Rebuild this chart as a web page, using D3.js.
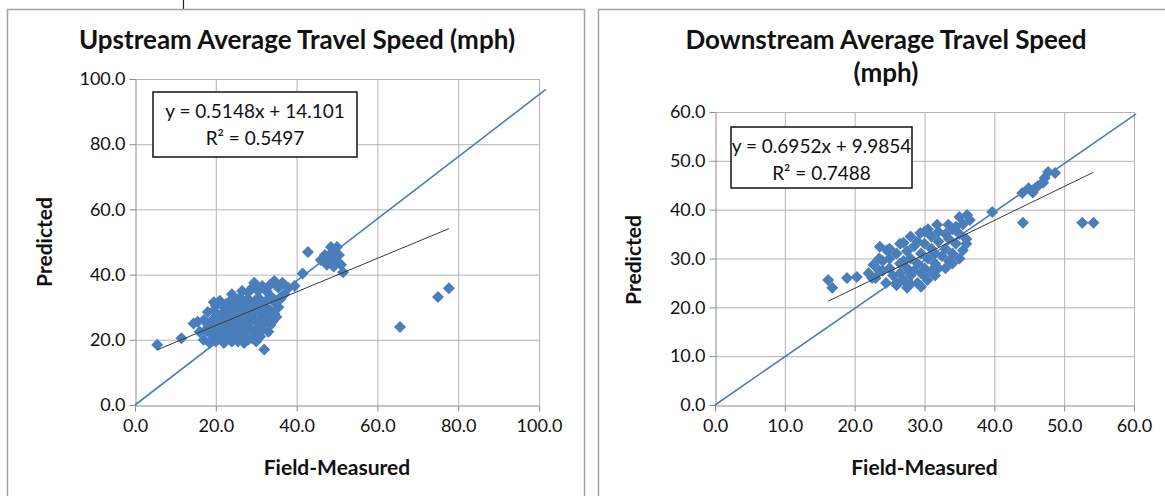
<!DOCTYPE html>
<html>
<head>
<meta charset="UTF-8">
<script src="https://d3js.org/d3.v7.min.js"></script>
<style>
  body { margin: 0; background: #fff; }
  svg { display: block; }
  text { font-family: Lato, "Open Sans", sans-serif; fill: #111; }
</style>
</head>
<body>
<div class="myDiv"></div>
<script>
// upstream speeds (mph): [field-measured, predicted]
var upPoints = [
  [5.5,18.5],[11.5,20.5],[14.5,25],
  [17,20],[18.5,19],[19.5,21],[20,19.5],[21,20.5],[22,19],[22.5,21],[23.5,20],[24,19.5],[25,21],[25.5,19.5],[26.5,20.5],[27,19],[28,20],[29,20.5],[30,19.5],[31,21],[32,17],
  [16,22.5],[17.5,23],[18.5,22],[19,24],[20,23],[21,22],[21.5,24],[22.5,23],[23,22],[24,24],[24.5,22.5],[25.5,23.5],[26,22],[27,24],[27.5,22.5],[28.5,23.5],[29.5,22],[30.5,24],[31.5,23],[33,22.5],[33.5,24.5],
  [15.5,25.5],[17,26],[18,25],[19.5,26.5],[20.5,25],[21,27],[22,26],[23,25],[23.5,27],[24.5,26],[25,25],[26,27],[26.5,25.5],[27.5,26.5],[28,25],[29,27],[30,25.5],[31,26.5],[32,25],[33,27],[34,25.5],[35,27],
  [18,28.5],[19.5,29],[20,30.5],[21.5,28],[22,30],[23,29],[24,28],[24.5,30],[25.5,29],[26.5,28.5],[27,30.5],[28,29],[29,28],[29.5,30],[30.5,29],[31.5,28.5],[32.5,30],[33.5,29],[34.5,28],[35.5,30],
  [19.5,31.5],[21,32],[22.5,31],[24,32.5],[25,31.5],[26,33],[27,31.5],[28,32.5],[29.5,31],[30.5,33],[31,31.5],[32.5,32],[33.5,33.5],[34.5,31.5],[36,32.5],[37,34],
  [24,34],[26.5,35],[28,34.5],[29,36],[29.5,37.5],[30.5,35],[31.5,36.5],[32.5,35],[33.5,37],[34.5,38],[35.5,36],[36.5,37.5],[38,36],[39.5,36.5],
  [41.5,40.3],[42.8,46.9],[46,44.5],[47,46],[47.5,43],[48.3,45.3],[48.5,48.5],[49,47],[49.5,44],[50,48.5],[50.5,46],[51,43],[51.5,40.7],[49.2,42.5],
  [65.6,23.9],[75,33.1],[77.7,35.8]
];

// downstream speeds (mph): [field-measured, predicted]
var downPoints = [
  [16.2,25.6],[16.8,24],[18.9,26],[20.3,26.2],[22.7,28.7],[22,27],[23.6,32.4],[24.6,31.7],[27,33.2],
  [23,26],[24,27.5],[24.5,25],[25,28],[25.5,26.5],[26,24.5],[26.5,29],[26.5,27],[27,25.5],[27.5,28],[27.5,24],
  [28,26.5],[28,30],[28.5,27.5],[29,25],[29,29],[29.5,31],[29.5,27],[30,28],[30,33],[30.4,25.6],[30.5,30],
  [31,27.5],[31,32],[31,34.5],[31.5,29],[31.5,31],[32,28],[32,33.5],[32.5,30.5],[33,32],[33,35],[33.5,29.5],
  [33.5,34],[34,31],[34,36],[34.5,33],[35,35],[35,30],[35.5,31.7],[35.5,37],[36.1,38.9],[36.5,37.9],[36,34],
  [29.4,35.2],[31.8,36.9],[33.4,36.9],[28,34.5],[30,35.5],[25,30],[26,31],[27.5,31.5],[28.5,32.5],[24,29.5],
  [26.5,33],[25,32],[29,33.5],[30.5,36],[32,35.5],[34.5,36.5],[35,38.5],[23.5,30],[27,29.5],[26,25],[28,24.8],
  [29.5,24.2],[31.5,26.5],[30,26.5],[33,28],[34,29],[36,33],[22.5,26],[23.5,27.5],
  [39.7,39.5],[44.1,37.3],[44,43.4],[44.9,44.4],[45.5,43.5],[46.2,44.8],[47,45.5],[47.7,47.7],[48.7,47.5],[47.2,46.5],
  [52.6,37.3],[54.2,37.3]
];

var upTicks = [0, 20, 40, 60, 80, 100];
var downTicks = [0, 10, 20, 30, 40, 50, 60];

// reference (1:1) line end points
var upRefLine = [[0, 0], [101.7, 96.8]];
var downRefLine = [[0, 0], [60.3, 59.6]];

// linear trendlines: slope, intercept, x range
var upTrend = { slope: 0.5148, intercept: 14.101, x: [5.5, 77.7] };
var downTrend = { slope: 0.6952, intercept: 9.9854, x: [16.2, 54.2] };

var upLabels = ["y = 0.5148x + 14.101", "R\u00b2 = 0.5497"];
var downLabels = ["y = 0.6952x + 9.9854", "R\u00b2 = 0.7488"];

var svg = d3.select(".myDiv").append("svg")
  .attr("width", 1165).attr("height", 496);

// frames
svg.append("line").attr("x1", 183.5).attr("x2", 183.5).attr("y1", 0).attr("y2", 9)
  .attr("stroke", "#222").attr("stroke-width", 1.2);
svg.append("rect").attr("x", 7.5).attr("y", 9.5).attr("width", 577).attr("height", 520)
  .attr("fill", "none").attr("stroke", "#a0a0a0").attr("stroke-width", 1.5);
svg.append("rect").attr("x", 598.5).attr("y", 9.5).attr("width", 620).attr("height", 520)
  .attr("fill", "none").attr("stroke", "#a0a0a0").attr("stroke-width", 1.5);

var blue = "#4a7ebb";

function drawChart(cfg) {
  var x = d3.scaleLinear().domain(cfg.domain).range(cfg.xr);
  var y = d3.scaleLinear().domain(cfg.domain).range(cfg.yr);
  var g = svg.append("g");

  // gridlines
  g.selectAll(".vg").data(cfg.ticks.slice(1)).enter().append("line")
    .attr("x1", d => x(d) + 0.5).attr("x2", d => x(d) + 0.5)
    .attr("y1", cfg.yr[0]).attr("y2", cfg.yr[1])
    .attr("stroke", "#b4b4b4").attr("stroke-width", 1);
  g.selectAll(".hg").data(cfg.ticks.slice(1)).enter().append("line")
    .attr("y1", d => y(d) + 0.5).attr("y2", d => y(d) + 0.5)
    .attr("x1", cfg.xr[0]).attr("x2", cfg.xr[1])
    .attr("stroke", "#b4b4b4").attr("stroke-width", 1);

  // axes
  var xAxis = d3.axisBottom(x).tickValues(cfg.ticks).tickFormat(d3.format(".1f"))
    .tickSizeInner(6).tickSizeOuter(0).tickPadding(8);
  var yAxis = d3.axisLeft(y).tickValues(cfg.ticks).tickFormat(d3.format(".1f"))
    .tickSizeInner(6).tickSizeOuter(0).tickPadding(4);
  [g.append("g").attr("transform", "translate(0," + (cfg.yr[0] + 0.5) + ")").call(xAxis),
   g.append("g").attr("transform", "translate(" + (cfg.xr[0] + 0.5) + ",0)").call(yAxis)]
    .forEach(function(a) {
      a.selectAll("path, line").attr("stroke", "#8c8c8c");
      a.selectAll("text").style("font-size", "18px").attr("fill", "#111")
        .style("font-family", "Lato, sans-serif");
    });

  // 1:1 line
  g.append("path").datum(cfg.ref)
    .attr("d", d3.line().x(d => x(d[0])).y(d => y(d[1])))
    .attr("stroke", blue).attr("stroke-width", 1.6).attr("fill", "none");

  // points
  g.selectAll(".pt").data(cfg.points).enter().append("path")
    .attr("d", d3.symbol().type(d3.symbolSquare).size(72))
    .attr("transform", d => "translate(" + x(d[0]) + "," + y(d[1]) + ") rotate(45)")
    .attr("fill", blue);

  // trendline
  var tr = cfg.trend;
  g.append("path").datum(tr.x.map(v => [v, tr.slope * v + tr.intercept]))
    .attr("d", d3.line().x(d => x(d[0])).y(d => y(d[1])))
    .attr("stroke", "#3a3a3a").attr("stroke-width", 1).attr("fill", "none");

  // equation box
  var b = cfg.box;
  g.append("rect").attr("x", b[0]).attr("y", b[1]).attr("width", b[2]).attr("height", b[3])
    .attr("fill", "#fff").attr("stroke", "#111").attr("stroke-width", 1.5);
  g.selectAll(".eq").data(cfg.labels).enter().append("text")
    .attr("x", b[0] + b[2] / 2).attr("y", (d, i) => b[1] + 26 + i * 27)
    .attr("text-anchor", "middle").style("font-size", "19px").text(d => d);

  // titles
  g.selectAll(".title").data(cfg.title).enter().append("text")
    .attr("x", cfg.titleX).attr("y", (d, i) => 49 + i * 33)
    .attr("text-anchor", "middle").style("font-size", "26px").style("font-weight", "bold")
    .text(d => d);
  g.append("text").attr("x", (cfg.xr[0] + cfg.xr[1]) / 2).attr("y", 475)
    .attr("text-anchor", "middle").style("font-size", "21px").style("font-weight", "bold")
    .text("Field-Measured");
  g.append("text").attr("transform", "translate(" + cfg.ylabX + "," + cfg.ylabY + ") rotate(-90)")
    .attr("text-anchor", "middle").style("font-size", "21px").style("font-weight", "bold")
    .text("Predicted");
}

drawChart({
  domain: [0, 100], ticks: upTicks, xr: [135, 539], yr: [405, 79],
  points: upPoints, ref: upRefLine, trend: upTrend, labels: upLabels,
  box: [153, 92, 204, 65], title: ["Upstream Average Travel Speed (mph)"], titleX: 297,
  ylabX: 52, ylabY: 242
});
drawChart({
  domain: [0, 60], ticks: downTicks, xr: [715, 1134], yr: [405, 112],
  points: downPoints, ref: downRefLine, trend: downTrend, labels: downLabels,
  box: [731, 127, 181, 61], title: ["Downstream Average Travel Speed", "(mph)"], titleX: 886,
  ylabX: 641, ylabY: 260
});
</script>
</body>
</html>
